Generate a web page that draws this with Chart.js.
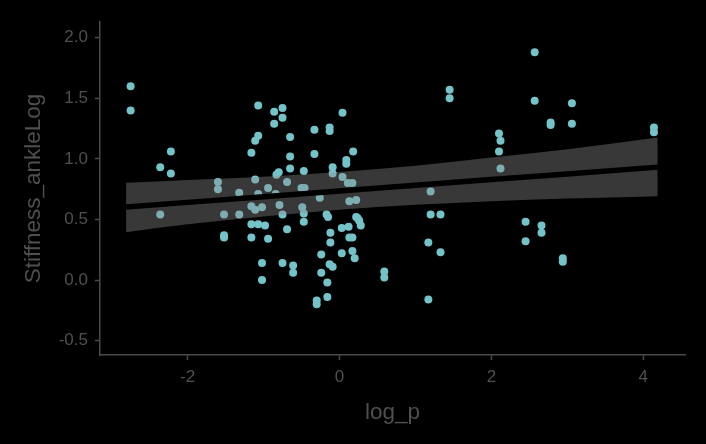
<!DOCTYPE html>
<html>
<head>
<meta charset="utf-8">
<script src="https://cdn.jsdelivr.net/npm/chart.js@4.4.0/dist/chart.umd.min.js"></script>
<style>
  html, body { margin: 0; padding: 0; background: #000; }
  #wrap { width: 706px; height: 444px; }
</style>
</head>
<body>
<div id="wrap"><canvas id="myChart" width="706" height="444"></canvas></div>
<script>
// scatter points (log_p vs Stiffness_ankleLog)
const logP = [
  -2.75, -2.75, -2.36, -2.22, -2.22, -2.36, -1.60, -1.60, -1.32, -1.52,
  -1.32, -1.52, -1.52, -1.16, -1.11, -1.07, -1.07, -1.11, -1.07, -0.94,
  -0.86, -0.86, -0.75, -0.75, -0.65, -0.65, -0.65, -0.80, -0.83, -0.69,
  -0.47, -0.50, -0.46, -0.33, -0.33, -0.26, -0.13, -0.13, -0.09, 0.04,
  0.09, 0.09, 0.18, 0.04, 0.11, 0.17, 0.13, 0.22, -0.84, -0.49,
  -0.79, -1.16, -1.02, -1.11, -0.75, -0.47, -0.47, -1.16, -1.07, -0.98,
  -1.16, -0.94, -0.69, -1.02, -0.75, -0.61, -0.61, -1.02, -0.24, -0.24,
  -0.16, -0.16, -0.30, -0.30, -0.12, -0.12, -0.17, -0.15, -0.13, -0.09,
  0.03, 0.03, 0.12, 0.13, 0.17, 0.17, 0.20, 0.24, 0.28, 0.22,
  0.26, -0.09, 2.57, 1.45, 1.45, 2.57, 3.06, 2.78, 2.78, 3.06,
  4.14, 4.14, 2.10, 2.12, 2.10, 2.12, 1.20, 1.20, 1.33, 2.45,
  2.66, 2.66, 2.45, 2.94, 2.94, 1.17, 1.33, 0.59, 0.59, 1.17
];
const stiffness = [
  1.60, 1.40, 0.93, 1.06, 0.88, 0.54, 0.81, 0.75, 0.72, 0.54,
  0.54, 0.37, 0.35, 1.05, 1.15, 1.19, 1.44, 0.83, 0.71, 0.76,
  1.39, 1.29, 1.42, 1.34, 1.18, 1.02, 0.92, 0.89, 0.87, 0.81,
  0.90, 0.76, 0.76, 1.24, 1.04, 0.68, 1.26, 1.23, 0.93, 1.38,
  0.99, 0.96, 1.06, 0.85, 0.80, 0.80, 0.65, 0.66, 0.71, 0.60,
  0.62, 0.61, 0.60, 0.58, 0.54, 0.55, 0.48, 0.46, 0.46, 0.45,
  0.35, 0.34, 0.42, 0.14, 0.14, 0.12, 0.06, 0.00, 0.21, 0.06,
  -0.02, -0.14, -0.17, -0.20, 0.39, 0.31, 0.54, 0.52, 0.13, 0.11,
  0.43, 0.22, 0.44, 0.35, 0.35, 0.24, 0.18, 0.51, 0.45, 0.52,
  0.49, 0.88, 1.88, 1.57, 1.50, 1.48, 1.46, 1.30, 1.28, 1.29,
  1.26, 1.22, 1.21, 1.15, 1.06, 0.92, 0.73, 0.54, 0.54, 0.48,
  0.45, 0.39, 0.32, 0.18, 0.15, 0.31, 0.23, 0.07, 0.02, -0.16
];

// fitted line and its confidence ribbon
const fitX = [-2.81, -2, -1, 0, 1, 2, 3, 4.19];
const fitY = [0.603, 0.641, 0.687, 0.735, 0.782, 0.830, 0.876, 0.932];
const fitLow = [0.395, 0.460, 0.525, 0.580, 0.621, 0.651, 0.672, 0.692];
const fitHigh = [0.803, 0.826, 0.852, 0.892, 0.944, 1.012, 1.080, 1.176];

// axis ticks
const xTicks = [-2, 0, 2, 4];
const yTicks = [-0.5, 0, 0.5, 1, 1.5, 2];

const pointColor = "rgb(115, 195, 201)";
const axisColor = "#4a4a4a";
const textColor = "#4f4f4f";
const fontFamily = "'Liberation Sans', Arial, Helvetica, sans-serif";

const toXY = (xs, ys) => xs.map((x, i) => ({ x: x, y: ys[i] }));

const data = {
  datasets: [
    {
      label: "points",
      data: toXY(logP, stiffness),
      backgroundColor: pointColor,
      borderWidth: 0,
      pointRadius: 4,
      showLine: false,
      order: 3,
    },
    {
      label: "upper",
      data: toXY(fitX, fitHigh),
      showLine: true,
      borderWidth: 0,
      borderColor: "rgba(0,0,0,0)",
      pointRadius: 0,
      cubicInterpolationMode: "monotone",
      fill: false,
      order: 2,
    },
    {
      label: "lower",
      data: toXY(fitX, fitLow),
      showLine: true,
      borderWidth: 0,
      borderColor: "rgba(0,0,0,0)",
      pointRadius: 0,
      cubicInterpolationMode: "monotone",
      fill: { target: "-1" },
      backgroundColor: "rgba(140, 140, 140, 0.4)",
      order: 2,
    },
    {
      label: "fit",
      data: toXY(fitX, fitY),
      showLine: true,
      borderColor: "#000",
      borderWidth: 5.5,
      pointRadius: 0,
      fill: false,
      order: 1,
    },
  ],
};

const config = {
  type: "scatter",
  data,
  options: {
    responsive: false,
    animation: false,
    layout: { padding: { top: 22, right: 21, left: 0, bottom: 0 } },
    plugins: {
      legend: { display: false },
      tooltip: { enabled: false },
    },
    scales: {
      x: {
        type: "linear",
        min: -3.153,
        max: 4.549,
        afterBuildTicks: (s) => { s.ticks = xTicks.map((v) => ({ value: v })); },
        afterFit: (s) => { s.height = 89; },
        ticks: {
          color: textColor,
          font: { family: fontFamily, size: 17 },
          padding: 7,
          callback: (v) => String(v),
        },
        grid: { drawOnChartArea: false, tickLength: 5, tickColor: axisColor, tickWidth: 1.5 },
        border: { color: axisColor, width: 1.5 },
        title: {
          display: true,
          text: "log_p",
          color: textColor,
          font: { family: fontFamily, size: 22.5 },
          padding: { top: 0, bottom: 18 },
        },
      },
      y: {
        type: "linear",
        min: -0.619,
        max: 2.13,
        afterBuildTicks: (s) => { s.ticks = yTicks.map((v) => ({ value: v })); },
        afterFit: (s) => { s.width = 100; },
        ticks: {
          color: textColor,
          font: { family: fontFamily, size: 17 },
          padding: 7,
          callback: (v) => Number(v).toFixed(1),
        },
        grid: { drawOnChartArea: false, tickLength: 5, tickColor: axisColor, tickWidth: 1.5 },
        border: { color: axisColor, width: 1.5 },
        title: {
          display: true,
          text: "Stiffness_ankleLog",
          color: textColor,
          font: { family: fontFamily, size: 22.5 },
          padding: { top: 20, bottom: 0 },
        },
      },
    },
  },
};

const myChart = new Chart(document.getElementById("myChart"), config);
</script>
</body>
</html>
